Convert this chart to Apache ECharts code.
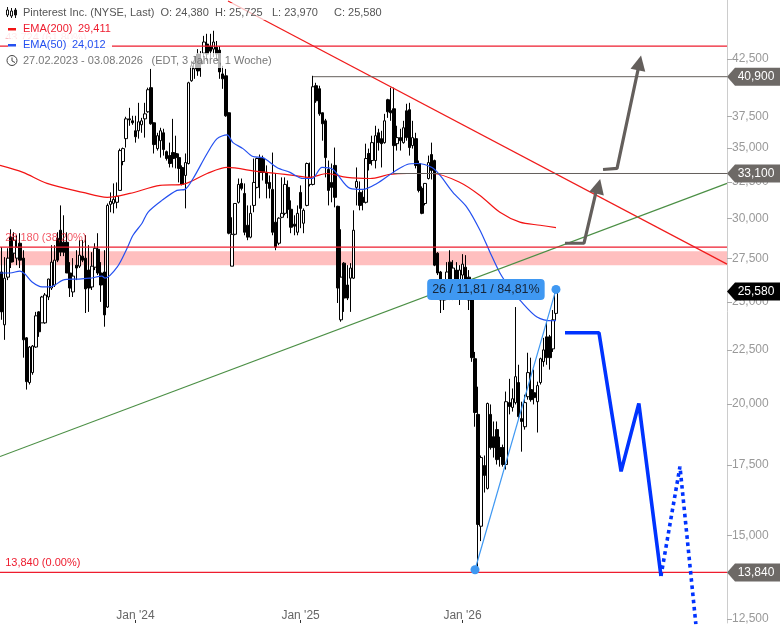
<!DOCTYPE html>
<html><head><meta charset="utf-8">
<style>html,body{margin:0;padding:0;background:#fff}#c{width:780px;height:625px}</style>
<script src="https://cdn.jsdelivr.net/npm/echarts@6/dist/echarts.min.js"></script>
</head><body><div id="c"></div>
<script>
// weekly candles, index = weeks since 27.02.2023: [open, close, low, high]
const weeklyOHLC = [
[25.5,26.6,24.9,27.5],[26.69,24.46,24.04,28.18],[23.78,26.33,23.01,27.57],[26.39,27.51,26.22,28.11],[28.80,27.27,26.92,29.30],
[27.81,28.61,27.27,29.11],[27.51,28.17,27.09,28.92],[28.42,27.39,26.92,29.05],[27.51,23.01,22.13,27.99],[23.11,21.00,20.64,23.15],
[20.96,22.65,20.87,22.70],[21.42,22.70,21.32,22.75],[22.65,24.25,22.61,24.46],[24.46,23.42,23.16,24.50],[23.88,25.27,23.88,25.33],
[23.88,25.38,23.83,25.49],[25.27,26.28,25.10,26.30],[25.77,27.27,25.66,28.30],[25.94,27.39,25.83,28.30],[28.73,27.39,27.27,29.11],
[29.24,27.87,27.63,30.87],[28.48,27.87,27.63,30.21],[28.48,26.63,26.63,29.11],[26.63,25.77,25.27,27.27],[25.55,26.45,25.27,27.51],
[27.09,26.92,26.22,27.99],[27.03,27.69,26.92,28.61],[27.63,27.39,27.27,28.61],[27.51,25.72,24.40,28.92],[26.80,25.77,24.46,28.30],
[25.83,27.03,25.66,27.87],[26.97,28.11,26.80,28.42],[28.05,26.63,26.51,29.05],[26.63,25.94,25.00,27.27],[26.69,24.30,23.68,27.99],
[24.72,30.87,24.67,31.00],[30.94,31.14,30.41,31.76],[31.01,31.28,30.34,32.39],[31.08,31.49,30.67,32.46],[31.90,34.80,31.90,34.95],
[33.98,34.95,33.70,35.03],[35.72,37.30,35.03,37.47],[37.30,37.22,36.74,38.21],[37.14,36.98,36.82,37.55],[36.34,35.87,35.41,37.55],
[36.34,37.06,35.72,38.63],[36.82,37.14,36.18,37.38],[37.30,37.71,35.80,38.63],[37.88,39.75,37.80,39.93],[39.93,36.90,36.82,41.60],
[36.98,35.26,34.58,37.00],[34.95,35.95,34.80,36.18],[35.56,36.34,34.27,36.58],[36.18,34.88,34.42,36.50],[34.72,34.20,34.05,34.80],
[34.42,33.83,33.54,35.41],[34.65,34.20,33.54,37.30],[34.58,34.27,33.47,35.95],[34.27,33.47,32.46,34.58],[33.54,32.32,32.25,33.69],
[32.96,33.90,30.67,34.58],[33.83,40.36,33.76,40.45],[40.54,41.88,40.45,42.34],[41.60,42.34,40.71,42.80],[42.98,41.42,40.98,43.44],
[42.34,42.06,40.89,43.25],[43.06,44.12,42.70,44.72],[43.92,42.97,42.34,44.92],[43.72,43.25,42.61,44.92],[43.44,44.12,42.70,45.22],
[43.63,42.97,42.34,44.22],[43.35,41.33,40.71,43.72],[41.15,40.71,39.83,41.88],[40.98,37.55,37.47,41.60],[37.80,29.05,28.98,37.82],
[27.03,28.98,27.03,30.08],[28.98,31.00,28.92,31.02],[31.08,32.32,31.00,32.74],[32.39,32.04,31.90,32.74],[31.69,29.11,28.92,32.39],
[29.56,28.80,28.61,30.87],[28.80,30.34,28.73,30.87],[30.87,32.46,30.41,34.20],[32.11,34.20,32.04,34.27],[34.20,33.18,31.35,34.50],
[34.20,33.18,32.60,34.42],[33.18,32.39,31.35,33.69],[32.46,32.04,31.35,32.96],[31.97,29.11,28.92,34.65],[29.76,28.17,27.99,33.10],
[28.42,30.02,28.30,30.08],[30.08,30.34,30.02,32.82],[30.34,32.32,30.21,32.82],[32.11,30.61,30.02,32.60],[30.61,29.43,29.05,31.21],
[29.63,29.50,28.92,30.21],[29.11,30.34,28.92,30.87],[31.76,30.67,29.37,32.25],[29.69,30.54,29.05,30.67],[30.87,33.83,30.81,33.90],
[32.32,32.82,32.18,33.90],[32.32,40.01,32.25,40.98],[40.10,38.80,38.63,40.36],[39.84,37.71,37.55,40.10],[37.80,36.90,35.56,37.82],
[37.14,34.27,32.82,37.30],[33.39,31.90,30.87,34.05],[32.46,32.11,31.08,33.83],[33.69,31.42,30.74,35.03],[30.81,25.77,24.94,30.85],
[24.04,26.39,23.94,29.30],[27.21,25.21,24.46,27.27],[25.94,25.21,25.10,27.09],[26.33,26.92,24.46,27.21],[26.33,29.24,26.28,30.54],
[32.11,32.53,30.87,33.54],[31.76,30.87,30.54,32.53],[31.42,31.08,30.54,31.90],[31.08,34.20,31.00,35.33],[34.58,33.83,33.32,34.95],
[34.05,35.41,33.69,35.95],[34.05,35.95,33.47,36.74],[36.18,35.41,34.80,36.50],[35.72,35.33,33.54,36.34],[35.41,37.14,35.33,37.71],
[38.89,37.88,37.38,38.97],[37.96,37.80,37.14,39.93],[38.13,35.18,33.10,39.93],[35.33,35.80,34.80,36.74],[35.80,35.56,34.80,36.50],
[35.41,36.58,35.33,37.14],[37.96,35.80,35.56,38.55],[38.05,35.03,34.42,38.63],[35.18,35.80,34.95,37.14],[35.72,33.69,33.47,36.18],
[33.83,31.90,31.76,34.05],[32.04,30.34,30.28,32.18],[31.00,32.39,30.87,32.42],[32.74,33.90,32.67,34.42],[34.50,33.32,32.67,35.41],
[34.05,27.09,27.03,34.12],[27.81,26.63,26.51,27.87],[26.69,25.10,24.40,26.75],[25.27,25.10,24.56,25.94],[25.33,26.69,25.10,27.27],
[27.27,26.22,25.10,27.99],[26.11,26.92,25.10,27.39],[26.80,25.94,25.21,27.27],[25.66,26.80,24.83,27.09],[26.51,27.15,25.94,27.75],
[26.97,25.94,25.66,27.69],[26.39,25.10,24.56,26.80],[25.38,22.13,21.93,25.66],[22.08,19.63,19.03,22.41],[19.55,15.37,13.84,20.77],
[15.31,17.79,14.82,17.87],[17.48,17.11,16.48,17.87],[16.63,20.02,16.59,20.06],[19.55,18.18,18.10,19.98],[18.62,18.18,17.79,19.25],
[18.91,17.71,17.52,19.25],[18.18,17.83,17.44,18.62],[18.18,17.52,17.44,18.30],[17.52,20.10,17.33,20.55],[20.06,19.89,19.55,21.13],
[19.85,20.23,19.67,20.69],[20.06,21.23,19.98,24.72],[20.96,19.46,19.33,21.79],[19.37,19.25,18.02,20.10],[19.03,20.06,18.91,20.41],
[20.32,21.42,20.19,22.37],[20.64,20.19,20.10,22.13],[20.50,20.28,19.98,21.56],[20.10,20.82,18.79,21.00],[20.96,22.08,20.87,22.13],
[21.94,22.51,21.70,23.11],[23.16,22.13,21.79,23.94],[23.16,22.13,21.56,23.26],[22.56,24.04,22.41,24.56],[24.38,25.58,23.97,25.725]
];
// [weeks since 27.02.2023, price]
const ema200 = [[0.5,33.69],[7.9,33.18],[15.6,32.39],[27.1,31.76],[34.9,31.42],[42.2,31.69],[51.9,32.25],[59.2,32.32],[67,33.10],[73.4,33.54],[83,33.25],[89.4,33.10],[94.6,32.96],[100,32.82],[105.5,33.10],[111.9,32.82],[119.3,32.74],[125.7,33.03],[131.2,33.10],[139.5,33.10],[148.2,32.46],[154.6,31.55],[161,30.41],[167.4,29.76],[173.9,29.56],[179,29.411]];
const ema50 = [[0.5,26.63],[3.7,26.63],[6.9,26.74],[8.5,26.57],[10.8,26.11],[14,25.83],[17.5,25.88],[20.7,26.22],[25.2,26.28],[29.4,26.33],[33.2,26.45],[34.2,26.33],[38.1,26.97],[41.3,28.11],[43.2,28.92],[46.1,29.69],[48,30.41],[52.5,31.21],[57.3,31.90],[59.9,31.97],[62.5,32.74],[67,34.58],[70.2,35.72],[73.4,36.02],[75.3,35.41],[78.5,34.95],[81.7,34.35],[84.9,34.27],[89.4,33.54],[93.6,33.18],[97.8,32.74],[100.7,32.74],[103.9,33.54],[107.4,33.39],[112.9,32.04],[117,31.97],[121.5,32.39],[126.7,33.18],[131.2,33.76],[134.4,33.83],[139.2,33.54],[141.8,32.96],[145.9,31.76],[150.4,30.74],[154.6,29.24],[157.8,27.87],[161,26.63],[164.2,25.77],[167.4,25.10],[172.9,24.19],[178,23.99],[179,24.012]];
const redTrend = [[73.7,48.26],[233.9,27.15]];
const greenTrend = [[0.5,17.83],[233.9,32.39]];
const measureLine = [[153,13.92],[179,25.69]];
const measureText = '26 / 11,81 / 84,81%';
const measureTextAt = [156.5,25.69];
const grayArrow1 = [[181.9,28.42],[188,28.42],[192.2,32.11]];
const grayArrow1Head = [192.6,32.18];
const grayArrow2 = [[194.1,33.39],[198.6,33.47],[205.6,41.88]];
const grayArrow2Head = [205.8,42.15];
const blueSolid = [[181.9,23.37],[192.8,23.37],[199.9,17.26],[205.6,20.02],[212.7,13.73]];
const blueDotted = [[212.7,13.73],[218.8,17.44],[223.9,12.36]];
const fibLevels = [43.724,28.18,13.84];
const fibTexts = [['43,724 (61,80%)',2,44.5,0.3],['28,180 (38,20%)',2,28.78,0.75],['13,840 (0.00%)',2,14.13,1]];
const supportZone = [27.93,27.09];
const grayLevels = [[101,40.9],[127,33.1]];
const priceTags = [[40.9,'40,900','#6d6966'],[33.1,'33,100','#6d6966'],[25.58,'25,580','#000'],[13.84,'13,840','#6d6966']];
const yTicks = [42.5,37.5,35,32.5,30,27.5,25,22.5,20,17.5,15,12.5];
const xTickWeeks = [44,97,149];
const xTickLabels = ["Jan '24","Jan '25","Jan '26"];

const xMin = 0.5, xMax = 233.9;
const RED = '#ee1c2e', GRAY = '#645f5c', FONT = '"Liberation Sans",Arial,sans-serif';

const line = (name,data,color,width,z,extra) => Object.assign({
  name,type:'line',data,showSymbol:false,symbol:'none',animation:false,silent:true,z,
  lineStyle:{color,width}},extra||{});

const series = [
  {name:'Pinterest',type:'candlestick',z:2,barWidth:3,clip:true,
   data:weeklyOHLC.map((c,i)=>[i,c[0],c[1],c[2],c[3]]),
   encode:{x:0,y:[1,2,3,4]},
   itemStyle:{color:'#fff',color0:'#000',borderColor:'#000',borderColor0:'#000',borderColorDoji:'#000',borderWidth:1}},
  line('zone',[],'#000',0,3,{markArea:{silent:true,itemStyle:{color:'rgba(255,0,0,0.25)'},
      data:[[{yAxis:supportZone[0],xAxis:xMin},{yAxis:supportZone[1],xAxis:xMax}]]}}),
  line('EMA(200)',ema200,'#f21414',1.2,4,{smooth:0.3}),
  line('EMA(50)',ema50,'#2450f0',1.2,4,{smooth:0.3}),
  line('redTrend',redTrend,'#f01c1c',1.2,4),
  line('greenTrend',greenTrend,'#4b8f45',1.2,4),
  line('measure',measureLine,'#3f98f2',1.2,6),
  {name:'measureDots',type:'scatter',data:measureLine,symbolSize:9,itemStyle:{color:'#3f98f2',opacity:1},z:7,silent:true,clip:false},
  line('arrow1',grayArrow1,GRAY,3.2,6),
  line('arrow2',grayArrow2,GRAY,3.2,6),
  {name:'arrowHeads',type:'scatter',silent:true,z:6,symbol:'triangle',symbolSize:[15,15],itemStyle:{color:GRAY,opacity:1},
   data:[{value:grayArrow1Head,symbolRotate:-14},{value:grayArrow2Head,symbolRotate:-12}]},
  line('blueSolid',blueSolid,'#0033ff',3.6,6),
  line('blueDotted',blueDotted,'#0033ff',3.6,6,{lineStyle:{color:'#0033ff',width:3.6,type:[3.6,3.6]}}),
  {name:'measureText',type:'scatter',silent:true,z:8,symbolSize:1,itemStyle:{color:'transparent',opacity:1},
   data:[measureTextAt],
   label:{show:true,position:'inside',formatter:measureText,fontFamily:FONT,fontSize:12.5,color:'#16263a',opacity:1,
     backgroundColor:'#3f98f2',borderRadius:4,padding:[4,5,4,5]}}
];
fibLevels.forEach((v,i)=>series.push(line('fib'+i,[[xMin,v],[xMax,v]],RED,1.2,5)));
grayLevels.forEach((g,i)=>series.push(line('level'+i,[[g[0],g[1]],[xMax,g[1]]],GRAY,1,4)));
fibTexts.forEach((f,i)=>series.push({name:'fibText'+i,type:'scatter',silent:true,z:5,symbolSize:1,itemStyle:{color:'transparent'},
  data:[[f[1],f[2]]],label:{show:true,position:'right',distance:0,formatter:f[0],fontFamily:FONT,fontSize:11,color:RED,opacity:f[3]}}));
priceTags.forEach((t,i)=>series.push({name:'tag'+i,type:'scatter',silent:true,z:9,clip:false,
  symbol:'path://M0 9L8 0H53V18H8Z',symbolSize:[53,18],symbolOffset:[26.5,0],itemStyle:{color:t[2]==='#000'?t[2]:'#6d6966',opacity:1},
  data:[[xMax,t[0]]],
  label:{show:true,position:'inside',offset:[2.5,0],formatter:t[1],fontFamily:FONT,fontSize:12,color:'#fff',opacity:1}}));

const txt=(x,y,text,fill)=>({type:'text',z:12,silent:true,x,y,style:{text,fill,font:'11px '+FONT,textVerticalAlign:'middle'}});
const bg=(x,y,w,h,a)=>({type:'rect',z:11,silent:true,shape:{x,y,width:w,height:h},style:{fill:'rgba(255,255,255,'+a+')'}});
const graphic=[
 bg(0,3,372,17,.7),bg(6,22,108,16,.7),bg(8,38.5,104,13,.97),bg(4,53,272,15,.7),
 {type:'rect',z:12,silent:true,shape:{x:8,y:28,width:8,height:2.5},style:{fill:'#f21414'}},
 {type:'rect',z:12,silent:true,shape:{x:8,y:44,width:8,height:2.5},style:{fill:'#2450f0'}},
 {type:'circle',z:12,silent:true,shape:{cx:12,cy:60.5,r:5},style:{fill:'none',stroke:'#444',lineWidth:1}},
 {type:'polyline',z:12,silent:true,shape:{points:[[12,57.5],[12,61],[15,62.5]]},style:{fill:'none',stroke:'#444',lineWidth:1}},
 {type:'line',z:12,silent:true,shape:{x1:7.5,y1:7,x2:7.5,y2:17},style:{stroke:'#111'}},
 {type:'rect',z:12,silent:true,shape:{x:6.5,y:10,width:2,height:5},style:{fill:'#fff',stroke:'#111'}},
 {type:'line',z:12,silent:true,shape:{x1:11.5,y1:8,x2:11.5,y2:18},style:{stroke:'#111'}},
 {type:'rect',z:12,silent:true,shape:{x:10.5,y:11,width:2,height:5},style:{fill:'#fff',stroke:'#111'}},
 {type:'line',z:12,silent:true,shape:{x1:15.5,y1:8,x2:15.5,y2:18},style:{stroke:'#111'}},
 {type:'rect',z:12,silent:true,shape:{x:14.5,y:10,width:2,height:5},style:{fill:'#111',stroke:'#111'}},
 txt(23,13,'Pinterest Inc. (NYSE, Last)','#555'),
 txt(160.5,13,'O: 24,380','#555'),txt(215,13,'H: 25,725','#555'),txt(272,13,'L: 23,970','#555'),txt(334,13,'C: 25,580','#555'),
 txt(23,29,'EMA(200)',RED),txt(78,29,'29,411',RED),
 txt(23,45,'EMA(50)','#2450f0'),txt(72,45,'24,012','#2450f0'),
 txt(23,61,'27.02.2023 - 03.08.2026','#777'),txt(151.5,61,'(EDT, 3 Jahre, 1 Woche)','#777')
];

const chart=echarts.init(document.getElementById('c'),null,{renderer:'canvas'});
chart.setOption({
  animation:false,backgroundColor:'#fff',tooltip:{show:false},legend:{show:false},
  grid:{left:0,right:53,top:0,bottom:0,containLabel:false},
  xAxis:{type:'value',min:xMin,max:xMax,scale:true,splitLine:{show:false},axisLine:{show:false},
    axisTick:{show:true,inside:true,length:3,lineStyle:{color:'#333'},customValues:xTickWeeks},
    axisLabel:{show:true,inside:true,margin:1,hideOverlap:false,color:'#666',fontFamily:FONT,fontSize:12,customValues:xTickWeeks,
      formatter:v=>xTickLabels[xTickWeeks.indexOf(+v)]||''}},
  yAxis:{type:'log',position:'right',min:12.392,max:48.365,logBase:10,scale:true,splitLine:{show:false},minorTick:{show:false},
    axisLine:{show:true,onZero:false,lineStyle:{color:'#ccc'}},
    axisTick:{show:true,length:5,lineStyle:{color:'#aaa'},customValues:yTicks},
    axisLabel:{show:true,margin:5,color:'#999',fontFamily:FONT,fontSize:12,customValues:yTicks,hideOverlap:false,
      formatter:v=>(+v).toFixed(3).replace('.',',')}},
  series,graphic
});
</script></body></html>
